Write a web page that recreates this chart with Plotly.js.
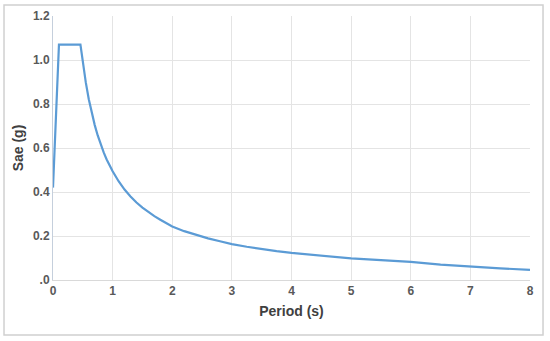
<!DOCTYPE html>
<html>
<head>
<meta charset="utf-8">
<script src="https://cdn.plot.ly/plotly-3.0.1.min.js"></script>
<style>
  html, body { margin: 0; padding: 0; background: #ffffff; }
  #chart { width: 550px; height: 341px; }
</style>
</head>
<body>
<div id="chart"></div>
<script>
// Period (s)
const period = [0, 0.1, 0.46, 0.5, 0.55, 0.6, 0.65, 0.7, 0.75, 0.8, 0.85, 0.9, 0.95, 1.0, 1.1, 1.2, 1.3, 1.4, 1.5, 1.6, 1.7, 1.8, 1.9, 2.0, 2.2, 2.4, 2.6, 2.8, 3.0, 3.25, 3.5, 3.75, 4.0, 4.5, 5.0, 5.5, 6.0, 6.5, 7.0, 7.5, 8.0];
// Sae (g)
const sae = [0.42, 1.07, 1.07, 0.985, 0.898, 0.822, 0.759, 0.704, 0.657, 0.616, 0.58, 0.548, 0.519, 0.494, 0.449, 0.411, 0.38, 0.352, 0.329, 0.308, 0.29, 0.274, 0.259, 0.243, 0.222, 0.204, 0.189, 0.176, 0.163, 0.151, 0.14, 0.131, 0.123, 0.109, 0.098, 0.09, 0.082, 0.07, 0.06, 0.053, 0.046];

const xTickVals = [0, 1, 2, 3, 4, 5, 6, 7, 8];
const xTickText = ['0', '1', '2', '3', '4', '5', '6', '7', '8'];
const yTickVals = [0, 0.2, 0.4, 0.6, 0.8, 1.0, 1.2];
const yTickText = ['.0', '0.2', '0.4', '0.6', '0.8', '1.0', '1.2'];

const tickFont = { family: 'Liberation Sans, Arial, sans-serif', size: 12, color: '#595959', weight: 'bold' };
const titleFont = { family: 'Liberation Sans, Arial, sans-serif', size: 14, color: '#404040', weight: 'bold' };

const trace = {
  x: period,
  y: sae,
  type: 'scatter',
  mode: 'lines',
  line: { color: '#5b9bd5', width: 2.2 },
  hoverinfo: 'skip'
};

const layout = {
  width: 550,
  height: 341,
  margin: { l: 53, r: 20, t: 16, b: 61 },
  paper_bgcolor: '#ffffff',
  plot_bgcolor: '#ffffff',
  showlegend: false,
  xaxis: {
    range: [0, 8],
    tickvals: xTickVals,
    ticktext: xTickText,
    tickfont: tickFont,
    showgrid: true,
    gridcolor: '#e4e4e4',
    gridwidth: 1,
    zeroline: false,
    showline: true,
    linecolor: '#d9d9d9',
    linewidth: 1,
    ticks: '',
    title: { text: 'Period (s)', font: titleFont, standoff: 8 },
    automargin: false,
    fixedrange: true
  },
  yaxis: {
    range: [0, 1.2],
    tickvals: yTickVals,
    ticktext: yTickText,
    tickfont: tickFont,
    showgrid: true,
    gridcolor: '#e4e4e4',
    gridwidth: 1,
    zeroline: false,
    showline: true,
    linecolor: '#c5cfdc',
    linewidth: 1,
    ticks: '',
    title: { text: 'Sae (g)', font: titleFont, standoff: 6 },
    automargin: false,
    fixedrange: true
  },
  shapes: [
    {
      type: 'rect', xref: 'paper', yref: 'paper',
      x0: -0.1027, x1: 1.0273, y0: -0.2083, y1: 1.0417,
      line: { color: '#d0d0d0', width: 1.5 },
      fillcolor: 'rgba(0,0,0,0)',
      layer: 'below'
    }
  ]
};

Plotly.newPlot('chart', [trace], layout, { displayModeBar: false, staticPlot: true });
</script>
</body>
</html>
